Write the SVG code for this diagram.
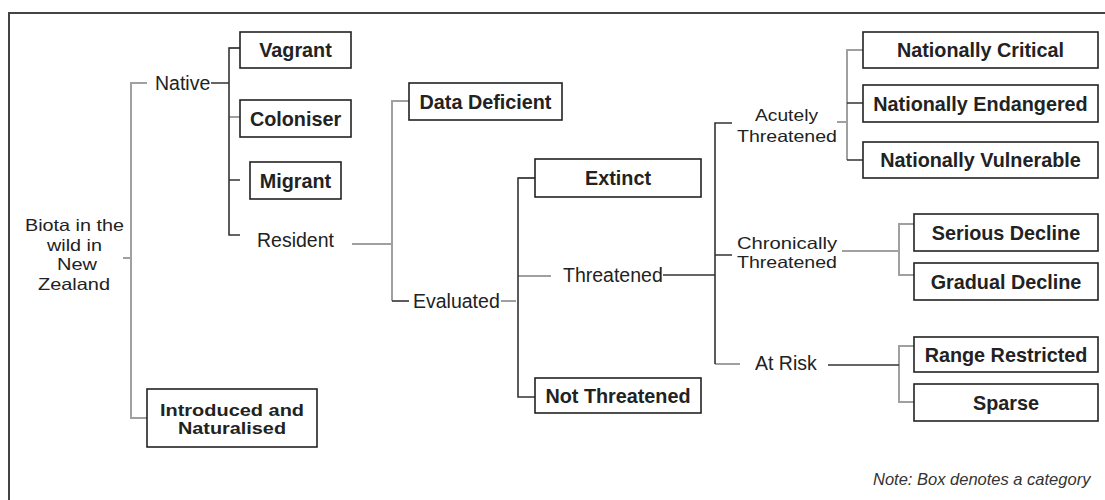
<svg xmlns="http://www.w3.org/2000/svg" width="1105" height="500" viewBox="0 0 1105 500">
<style>
.frame{fill:none;stroke:#444;stroke-width:2}
.box rect{fill:#fff;stroke:#222;stroke-width:1.6}
.box text{font-family:"Liberation Sans",Arial,sans-serif;font-weight:bold;font-size:19.8px;fill:#222;text-anchor:middle}
.lbl text{font-family:"Liberation Sans",Arial,sans-serif;font-size:19.5px;fill:#222}
.lbl text.m{font-size:16.5px}
.box text.m{font-size:16px}
.g{fill:none;stroke:#a0a0a0;stroke-width:2}
.d{fill:none;stroke:#333;stroke-width:1.6}
.note{font-family:"Liberation Sans",Arial,sans-serif;font-style:italic;font-size:16.5px;fill:#333}
</style>
<rect width="1105" height="500" fill="#fff"/>
<path class="frame" d="M9,500 V13 H1105"/>
<g id="connectors">
<path class="g" d="M123,258 H131 M147,83 H131 V418 H147"/>
<path class="g" d="M229,48 H240 M229,117 H240"/>
<path class="g" d="M352,244 H392 M409,101 H392 V301"/>
<path class="g" d="M501,301 H516"/>
<path class="g" d="M518,178 H535 M518,276 H551"/>
<path class="g" d="M715,364 H740"/>
<path class="g" d="M837,122 H847 M863,50 H847 V160"/>
<path class="g" d="M842,251 H899 M914,224 H899 V275 H914"/>
<path class="g" d="M914,346 H899 V402 H914"/>
<path class="d" d="M211,83 H229 M240,48 H229 V235 H240 M229,180 H240"/>
<path class="d" d="M392,301 H409"/>
<path class="d" d="M535,178 H518 V397 H535"/>
<path class="d" d="M663,275 H715 M732,123 H715 V364 M715,255 H732"/>
<path class="d" d="M847,103 H863 M847,160 H863"/>
<path class="d" d="M828,365 H899"/>
</g>
<g id="biota" class="lbl">
<text class="m" x="25" y="231" textLength="99" lengthAdjust="spacingAndGlyphs">Biota in the</text>
<text class="m" x="47" y="250.5" textLength="55" lengthAdjust="spacingAndGlyphs">wild in</text>
<text class="m" x="57" y="270" textLength="40" lengthAdjust="spacingAndGlyphs">New</text>
<text class="m" x="38" y="289.5" textLength="72" lengthAdjust="spacingAndGlyphs">Zealand</text>
</g>
<g id="native" class="lbl"><text x="155" y="90">Native</text></g>
<g id="resident" class="lbl"><text x="257" y="247">Resident</text></g>
<g id="evaluated" class="lbl"><text x="413" y="308">Evaluated</text></g>
<g id="threatened" class="lbl"><text x="563" y="282">Threatened</text></g>
<g id="acutely" class="lbl">
<text class="m" x="755" y="121" textLength="63" lengthAdjust="spacingAndGlyphs">Acutely</text>
<text class="m" x="737" y="142" textLength="100" lengthAdjust="spacingAndGlyphs">Threatened</text>
</g>
<g id="chronically" class="lbl">
<text class="m" x="737" y="249" textLength="100" lengthAdjust="spacingAndGlyphs">Chronically</text>
<text class="m" x="737" y="268" textLength="100" lengthAdjust="spacingAndGlyphs">Threatened</text>
</g>
<g id="atrisk" class="lbl"><text x="755" y="370">At Risk</text></g>
<g id="vagrant" class="box"><rect x="240" y="32" width="111" height="36"/><text x="295.5" y="57">Vagrant</text></g>
<g id="coloniser" class="box"><rect x="240" y="100" width="111" height="37"/><text x="295.5" y="125.5">Coloniser</text></g>
<g id="migrant" class="box"><rect x="250" y="162" width="91" height="37"/><text x="295.5" y="187.5">Migrant</text></g>
<g id="introduced" class="box"><rect x="147" y="389" width="170" height="58"/>
<text class="m" x="232" y="415.5" textLength="144" lengthAdjust="spacingAndGlyphs">Introduced and</text>
<text class="m" x="232" y="434" textLength="108" lengthAdjust="spacingAndGlyphs">Naturalised</text></g>
<g id="datadeficient" class="box"><rect x="409" y="83" width="153" height="37"/><text x="485.5" y="108.5">Data Deficient</text></g>
<g id="extinct" class="box"><rect x="535" y="159" width="166" height="38"/><text x="618" y="185">Extinct</text></g>
<g id="notthreatened" class="box"><rect x="535" y="378" width="166" height="35"/><text x="618" y="402.5">Not Threatened</text></g>
<g id="natcritical" class="box"><rect x="863" y="32" width="235" height="36"/><text x="980.5" y="57">Nationally Critical</text></g>
<g id="natendangered" class="box"><rect x="863" y="85" width="235" height="37"/><text x="980.5" y="110.5">Nationally Endangered</text></g>
<g id="natvulnerable" class="box"><rect x="863" y="142" width="235" height="36"/><text x="980.5" y="167">Nationally Vulnerable</text></g>
<g id="serious" class="box"><rect x="914" y="214" width="184" height="37"/><text x="1006" y="239.5">Serious Decline</text></g>
<g id="gradual" class="box"><rect x="914" y="263" width="184" height="37"/><text x="1006" y="288.5">Gradual Decline</text></g>
<g id="range" class="box"><rect x="914" y="337" width="184" height="35"/><text x="1006" y="361.5">Range Restricted</text></g>
<g id="sparse" class="box"><rect x="914" y="384" width="184" height="37"/><text x="1006" y="409.5">Sparse</text></g>
<text class="note" x="873" y="485">Note: Box denotes a category</text>
</svg>
